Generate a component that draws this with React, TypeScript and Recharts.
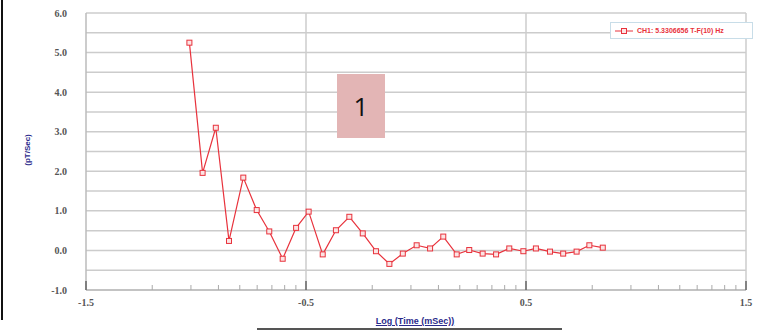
import { LineChart, Line, XAxis, YAxis, CartesianGrid } from "recharts";

// log time values (x) and rate values (y)
const logTimes = [
  -1.03, -0.97, -0.91, -0.85, -0.785, -0.724, -0.667, -0.606, -0.545, -0.488,
  -0.424, -0.364, -0.303, -0.242, -0.182, -0.121, -0.06, 0.003, 0.064, 0.124,
  0.185, 0.242, 0.303, 0.364, 0.424, 0.488, 0.545, 0.609, 0.669, 0.73, 0.788, 0.849,
];
const rates = [
  5.25, 1.96, 3.1, 0.24, 1.84, 1.02, 0.48, -0.21, 0.57, 0.98,
  -0.1, 0.51, 0.85, 0.43, -0.02, -0.34, -0.08, 0.13, 0.05, 0.35,
  -0.1, 0.01, -0.08, -0.1, 0.05, -0.02, 0.05, -0.03, -0.08, -0.03, 0.13, 0.07,
];

const yTicks = [-1, -0.5, 0, 0.5, 1, 1.5, 2, 2.5, 3, 3.5, 4, 4.5, 5, 5.5, 6];
const xMajorTicks = [-1.5, -0.5, 0.5, 1.5];
const xMinorTicks = [
  -1.199, -1.023, -0.898, -0.801, -0.722, -0.655, -0.597, -0.546,
  -0.199, -0.023, 0.102, 0.199, 0.278, 0.345, 0.403, 0.454,
  0.801, 0.977, 1.102, 1.199, 1.278, 1.345, 1.403, 1.454,
];
const legendLabel = "CH1: 5.3306656 T-F(10) Hz";

const RED = "#e8323c";

const data = logTimes.map((x, i) => ({ x, y: rates[i] }));

function SquareDot(props: any) {
  const { cx, cy } = props;
  if (cx == null || cy == null) return null;
  return (
    <rect x={cx - 2.5} y={cy - 2.5} width={5} height={5}
      fill="#fbe4e4" stroke={RED} strokeWidth={1} />
  );
}

function XTick(props: any) {
  const { x, y, payload } = props;
  const major = xMajorTicks.includes(payload.value);
  return (
    <g>
      <line x1={x} x2={x} y1={y - (major ? 9 : 5)} y2={y}
        stroke={major ? "#666" : "#aaa"} strokeWidth={major ? 1.5 : 1} />
      {major && (
        <text x={x} y={y + 16} textAnchor="middle" fontSize={10}
          fontWeight="bold" fill="#555" fontFamily="Liberation Serif">
          {payload.value}
        </text>
      )}
    </g>
  );
}

export default function App() {
  return (
    <div style={{ position: "absolute", left: 0, top: 0, width: 763, height: 330, background: "#fff", overflow: "hidden" }}>
      <LineChart width={763} height={330} data={data}
        margin={{ top: 13, right: 17, bottom: 20, left: 36 }}>
        <CartesianGrid stroke="#cccccc" strokeWidth={1.5}
          verticalValues={[-0.5, 0.5, 1.5]} />
        <XAxis type="number" dataKey="x" domain={[-1.5, 1.5]}
          ticks={[...xMajorTicks, ...xMinorTicks]} interval={0}
          tick={<XTick />} tickLine={false} tickSize={0} tickMargin={0}
          height={20} axisLine={{ stroke: "#bbb", strokeWidth: 1.5 }} />
        <YAxis type="number" domain={[-1, 6]} ticks={yTicks} interval={0}
          width={50} tickLine={false} tickMargin={13}
          axisLine={{ stroke: "#bbb", strokeWidth: 1.5 }}
          tickFormatter={(v: number) => (Number.isInteger(v) ? v.toFixed(1) : "")}
          tick={{ fontSize: 10, fontWeight: "bold", fill: "#555", fontFamily: "Liberation Serif" }} />
        <Line type="linear" dataKey="y" stroke={RED} strokeWidth={1.2}
          dot={<SquareDot />} activeDot={false} isAnimationActive={false} />
      </LineChart>

      {/* y axis title */}
      <div style={{ position: "absolute", left: 27, top: 150, transform: "translate(-50%, -50%) rotate(-90deg)", fontSize: 8, fontWeight: "bold", color: "#2b2b8c", fontFamily: "Liberation Sans", whiteSpace: "nowrap" }}>
        (pT/Sec)
      </div>

      {/* x axis title */}
      <div style={{ position: "absolute", left: 415, top: 316, transform: "translateX(-50%)", fontSize: 9, fontWeight: "bold", color: "#2b2b8c", fontFamily: "Liberation Sans", whiteSpace: "nowrap", textDecoration: "underline" }}>
        Log (Time (mSec))
      </div>
      <div style={{ position: "absolute", left: 257, top: 328, width: 305, height: 1.5, background: "#555" }} />

      {/* legend */}
      <div style={{ position: "absolute", left: 610, top: 22, width: 141, height: 15, border: "1px solid #c8dde8", background: "#fff", display: "flex", alignItems: "center", fontFamily: "Liberation Sans", fontSize: 7, fontWeight: "bold", color: RED, whiteSpace: "nowrap" }}>
        <svg width={18} height={10} style={{ marginLeft: 4, marginRight: 4 }}>
          <line x1={0} x2={18} y1={5} y2={5} stroke={RED} strokeWidth={1} />
          <rect x={6.5} y={2.5} width={5} height={5} fill="#fbe4e4" stroke={RED} />
        </svg>
        {legendLabel}
      </div>

      {/* annotation box */}
      <div style={{ position: "absolute", left: 337, top: 74, width: 48, height: 64, background: "#e3b5b5", display: "flex", alignItems: "center", justifyContent: "center", fontFamily: "Open Sans", fontSize: 26, color: "#111" }}>
        1
      </div>

      {/* left page border */}
      <div style={{ position: "absolute", left: 1, top: 0, width: 2, height: 320, background: "#111" }} />
    </div>
  );
}
